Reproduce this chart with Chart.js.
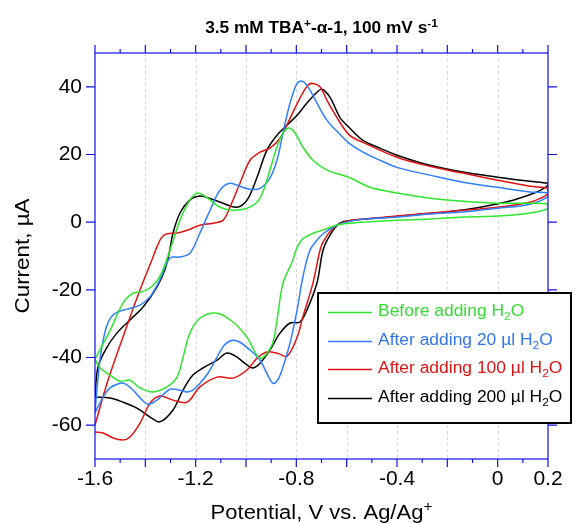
<!DOCTYPE html>
<html>
<head>
<meta charset="utf-8">
<script src="https://cdn.jsdelivr.net/npm/chart.js@4.4.1/dist/chart.umd.min.js"></script>
<style>
  body { margin: 0; background: #fff; }
  canvas { display: block; }
</style>
</head>
<body>
<canvas id="cv" width="575" height="523"></canvas>
<script>
const FONT = '"Liberation Sans", Arial, sans-serif';

// potential (V vs Ag/Ag+) and current (uA), one loop per curve
const greenE = [-1.6, -1.54, -1.489, -1.449, -1.413, -1.374, -1.342, -1.31, -1.262, -1.223, -1.191, -1.151, -1.103, -1.052, -0.996, -0.956, -0.933, -0.905, -0.877, -0.853, -0.829, -0.805, -0.774, -0.734, -0.678, -0.59, -0.507, -0.4, -0.269, -0.138, 0, 0.128, 0.2,
  0.2, 0.128, 0, -0.138, -0.269, -0.4, -0.535, -0.6, -0.64, -0.69, -0.74, -0.775, -0.8, -0.815, -0.853, -0.877, -0.897, -0.944, -0.996, -1.052, -1.115, -1.183, -1.223, -1.25, -1.274, -1.314, -1.37, -1.421, -1.461, -1.501, -1.54, -1.58, -1.6];
const greenI = [-40.5, -32, -24, -21, -20.6, -19, -16, -10, 0.6, 6.5, 8.6, 7, 4.4, 3.5, 4.1, 5.9, 8.9, 15.4, 22.2, 26.3, 27.8, 26.3, 22.2, 18.3, 15.4, 13.2, 10.3, 8.6, 7.1, 6.2, 5.6, 5.6, 5.3,
  4.0, 2.7, 1.8, 1.5, 0.9, 0.6, 0, -0.4, -0.9, -2.2, -3.5, -5, -8, -11.5, -18, -29, -36.3, -40.2, -34, -29.5, -26.9, -28.4, -32.8, -39.9, -45.8, -48.7, -50.2, -49, -46.7, -47, -45.2, -43, -40.5];

const blueE = [-1.6, -1.588, -1.575, -1.555, -1.535, -1.51, -1.473, -1.421, -1.381, -1.342, -1.302, -1.262, -1.223, -1.183, -1.143, -1.103, -1.064, -1.024, -0.984, -0.944, -0.905, -0.877, -0.853, -0.825, -0.797, -0.778, -0.754, -0.718, -0.678, -0.627, -0.59, -0.535, -0.468, -0.4, -0.269, -0.138, 0, 0.128, 0.2,
  0.2, 0.128, 0, -0.138, -0.269, -0.4, -0.535, -0.6, -0.64, -0.69, -0.72, -0.746, -0.774, -0.797, -0.825, -0.853, -0.873, -0.893, -0.915, -0.944, -0.984, -1.024, -1.052, -1.085, -1.115, -1.15, -1.183, -1.21, -1.234, -1.27, -1.302, -1.33, -1.354, -1.389, -1.42, -1.449, -1.48, -1.501, -1.54, -1.568, -1.6];
const blueI = [-56.4, -46, -38, -31, -28, -26.5, -25.7, -24.5, -22, -17, -10.6, -10.3, -9.2, -3.2, 3.5, 9.5, 11.5, 10.6, 9.7, 10, 13, 18.3, 26.3, 35.2, 41, 41.7, 40, 35.2, 30.1, 26, 23.3, 20.7, 18.3, 16.2, 13.9, 11.8, 10.3, 8.9, 8.6,
  7.5, 5.3, 4.1, 3.0, 2.4, 1.5, 0.9, 0, -0.9, -3.2, -5.5, -8.3, -16.2, -26, -35.7, -42.8, -46.5, -47.6, -45, -40.8, -37.8, -35.5, -34.9, -36.2, -39.9, -44.5, -47.6, -49.6, -50.2, -49.5, -49.4, -51, -52.6, -53.8, -52, -49.6, -47.8, -47.6, -49, -51.7, -56.4];

const redE = [-1.6, -1.552, -1.489, -1.421, -1.374, -1.355, -1.335, -1.314, -1.274, -1.234, -1.183, -1.131, -1.091, -1.064, -1.024, -0.984, -0.944, -0.905, -0.865, -0.825, -0.786, -0.754, -0.734, -0.706, -0.678, -0.639, -0.59, -0.535, -0.4, -0.269, -0.138, 0, 0.128, 0.2,
  0.2, 0.18, 0.128, 0, -0.138, -0.269, -0.4, -0.535, -0.6, -0.654, -0.694, -0.706, -0.734, -0.774, -0.797, -0.837, -0.877, -0.917, -0.956, -0.996, -1.052, -1.115, -1.183, -1.234, -1.29, -1.342, -1.381, -1.421, -1.461, -1.489, -1.528, -1.568, -1.6];
const redI = [-60, -47.6, -34, -20, -11.2, -7.5, -4.5, -3.4, -3.2, -2.4, -0.9, -0.3, 0.6, 4.4, 11.5, 18.3, 20.7, 21.9, 24.8, 30.7, 36.6, 40.5, 41, 40, 36, 31, 25.8, 23.6, 19.2, 16.5, 14.5, 12.4, 10.6, 10,
  8.5, 7.4, 5.9, 4.4, 3.5, 2.7, 1.8, 0.9, 0.3, -1.8, -5.9, -8.3, -18, -28, -34, -39.6, -38.7, -38.4, -40.2, -43.7, -46.1, -45.8, -48.7, -53.2, -52.6, -51.4, -53.5, -59.4, -63.5, -64.4, -63.8, -62.3, -62];

const blackE = [-1.6, -1.588, -1.552, -1.513, -1.461, -1.409, -1.354, -1.322, -1.305, -1.29, -1.262, -1.223, -1.183, -1.143, -1.091, -1.036, -0.996, -0.956, -0.917, -0.877, -0.837, -0.797, -0.758, -0.718, -0.698, -0.666, -0.627, -0.59, -0.535, -0.468, -0.4, -0.269, -0.138, 0, 0.128, 0.2,
  0.2, 0.19, 0.156, 0.061, -0.07, -0.202, -0.337, -0.468, -0.575, -0.627, -0.666, -0.694, -0.718, -0.758, -0.786, -0.825, -0.865, -0.905, -0.944, -0.972, -0.996, -1.036, -1.076, -1.115, -1.171, -1.211, -1.25, -1.29, -1.342, -1.381, -1.433, -1.489, -1.54, -1.6];
const blackI = [-51.7, -42.8, -36.9, -32.8, -28.9, -25.1, -19.2, -14, -9, -3.2, 2.7, 6.5, 7.7, 7, 5.6, 4.4, 6.5, 13.3, 21.3, 25.7, 28.7, 31.6, 35.2, 38.4, 39.3, 36.9, 31, 28, 24.2, 21.9, 19.8, 16.8, 14.8, 13.3, 12.1, 11.5,
  11, 10.3, 8.9, 6.5, 4.4, 3.0, 2.1, 1.2, 0.6, -0.3, -3.8, -8.3, -18, -26, -29.5, -29.8, -32.8, -37.8, -41.7, -43.1, -42.2, -39.9, -38.7, -40.8, -43.1, -45.2, -49.6, -55.5, -59, -57.6, -55, -53.2, -52, -51.7];

const seriesNames = [
  [['Before adding H'], ['2', 'sub'], ['O']],
  [['After adding 20 \u00b5l H'], ['2', 'sub'], ['O']],
  [['After adding 100 \u00b5l H'], ['2', 'sub'], ['O']],
  [['After adding 200 \u00b5l H'], ['2', 'sub'], ['O']]
];
const lineColors = ['#2fe62f', '#2f7fff', '#e01414', '#000000'];
const textColors = ['#33dd33', '#3377ee', '#e01414', '#000000'];

const xTickLabels = [-1.6, -1.2, -0.8, -0.4, 0, 0.2];
const yTickLabels = [-60, -40, -20, 0, 20, 40];

const toPoints = (E, I) => E.map((x, i) => ({ x: x, y: I[i] }));
const curves = [[greenE, greenI], [blueE, blueI], [redE, redI], [blackE, blackI]];

// text with super/subscripts, stretched a little horizontally like the original
function richText(ctx, parts, x, y, size, weight, align, sx) {
  const small = Math.round(size * 0.68);
  let w = 0;
  parts.forEach(p => {
    ctx.font = weight + ' ' + (p[1] ? small : size) + 'px ' + FONT;
    w += ctx.measureText(p[0]).width;
  });
  ctx.save();
  ctx.translate(x, y);
  ctx.scale(sx, 1);
  let cx = align === 'center' ? -w / 2 : 0;
  ctx.textAlign = 'left';
  parts.forEach(p => {
    ctx.font = weight + ' ' + (p[1] ? small : size) + 'px ' + FONT;
    const dy = p[1] === 'sup' ? -size * 0.38 : (p[1] === 'sub' ? size * 0.3 : 0);
    ctx.fillText(p[0], cx, dy);
    cx += ctx.measureText(p[0]).width;
  });
  ctx.restore();
}

const decor = {
  id: 'decor',
  beforeDatasetsDraw(chart) {
    const ctx = chart.ctx, a = chart.chartArea, xs = chart.scales.x;
    ctx.save();
    ctx.strokeStyle = '#d8d8d8';
    ctx.lineWidth = 1;
    ctx.setLineDash([3, 3]);
    for (let v = -1.4; v < 0.15; v += 0.2) {
      const px = Math.round(xs.getPixelForValue(v)) + 0.5;
      ctx.beginPath();
      ctx.moveTo(px, a.top);
      ctx.lineTo(px, a.bottom);
      ctx.stroke();
    }
    ctx.restore();
  },
  afterDatasetsDraw(chart) {
    const ctx = chart.ctx, a = chart.chartArea, xs = chart.scales.x, ys = chart.scales.y;
    ctx.save();
    // frame and ticks
    ctx.strokeStyle = '#1010ee';
    ctx.lineWidth = 1.2;
    ctx.strokeRect(a.left, a.top, a.right - a.left, a.bottom - a.top);
    ctx.beginPath();
    for (let k = 0; k <= 18; k++) {
      const v = -1.6 + k * 0.1;
      const px = xs.getPixelForValue(v);
      const len = k % 2 === 0 ? 8 : 4;
      ctx.moveTo(px, a.bottom); ctx.lineTo(px, a.bottom + len);
      ctx.moveTo(px, a.top); ctx.lineTo(px, a.top - len);
    }
    yTickLabels.forEach(v => {
      const py = ys.getPixelForValue(v);
      ctx.moveTo(a.left, py); ctx.lineTo(a.left - 9, py);
      ctx.moveTo(a.right, py); ctx.lineTo(a.right + 9, py);
    });
    ctx.stroke();

    // title and axis titles
    ctx.fillStyle = '#000';
    ctx.textBaseline = 'alphabetic';
    const cx = (a.left + a.right) / 2;
    richText(ctx, [['3.5 mM TBA'], ['+', 'sup'], ['-\u03b1-1, 100 mV s'], ['-1', 'sup']], cx, 33, 16, 'bold', 'center', 1.08);
    richText(ctx, [['Potential, V vs. Ag/Ag'], ['+', 'sup']], cx, 519, 20, 'normal', 'center', 1.1);
    ctx.save();
    ctx.translate(29, (a.top + a.bottom) / 2);
    ctx.rotate(-Math.PI / 2);
    richText(ctx, [['Current, \u00b5A']], 0, 0, 20, 'normal', 'center', 1.12);
    ctx.restore();

    // legend
    const lx = 318, ly = 293, lw = 253, lh = 130;
    ctx.fillStyle = '#fff';
    ctx.fillRect(lx, ly, lw, lh);
    ctx.strokeStyle = '#000';
    ctx.lineWidth = 2;
    ctx.strokeRect(lx, ly, lw, lh);
    const rows = [312, 341, 369, 398];
    ctx.textBaseline = 'middle';
    seriesNames.forEach((parts, i) => {
      ctx.strokeStyle = lineColors[i];
      ctx.lineWidth = 1.3;
      ctx.beginPath();
      ctx.moveTo(328, rows[i] + 0.5);
      ctx.lineTo(372, rows[i] + 0.5);
      ctx.stroke();
      ctx.fillStyle = textColors[i];
      richText(ctx, parts, 378, rows[i], 16, 'normal', 'left', 1.09);
    });
    ctx.restore();
  }
};

new Chart(document.getElementById('cv'), {
  type: 'scatter',
  data: {
    datasets: curves.map((c, i) => ({
      data: toPoints(c[0], c[1]),
      showLine: true,
      borderColor: lineColors[i],
      borderWidth: 1.5,
      pointRadius: 0,
      tension: 0.35,
      fill: false
    }))
  },
  options: {
    responsive: false,
    animation: false,
    devicePixelRatio: 1,
    layout: { padding: { top: 53, right: 27, left: 0, bottom: 0 } },
    plugins: { legend: { display: false }, tooltip: { enabled: false } },
    scales: {
      x: {
        type: 'linear',
        min: -1.6,
        max: 0.2,
        afterBuildTicks: s => { s.ticks = xTickLabels.map(v => ({ value: v })); },
        afterFit: s => { s.height = 64; },
        grid: { display: false, drawTicks: false },
        border: { display: false },
        ticks: {
          padding: 8,
          maxRotation: 0,
          autoSkip: false,
          color: '#000',
          font: { family: FONT, size: 21 },
          callback: v => String(Math.round(v * 10) / 10)
        }
      },
      y: {
        min: -70,
        max: 50,
        afterBuildTicks: s => { s.ticks = yTickLabels.map(v => ({ value: v })); },
        afterFit: s => { s.width = 95; },
        grid: { display: false, drawTicks: false },
        border: { display: false },
        ticks: {
          padding: 13,
          color: '#000',
          font: { family: FONT, size: 21 },
          callback: v => String(v)
        }
      }
    }
  },
  plugins: [decor]
});
</script>
</body>
</html>
